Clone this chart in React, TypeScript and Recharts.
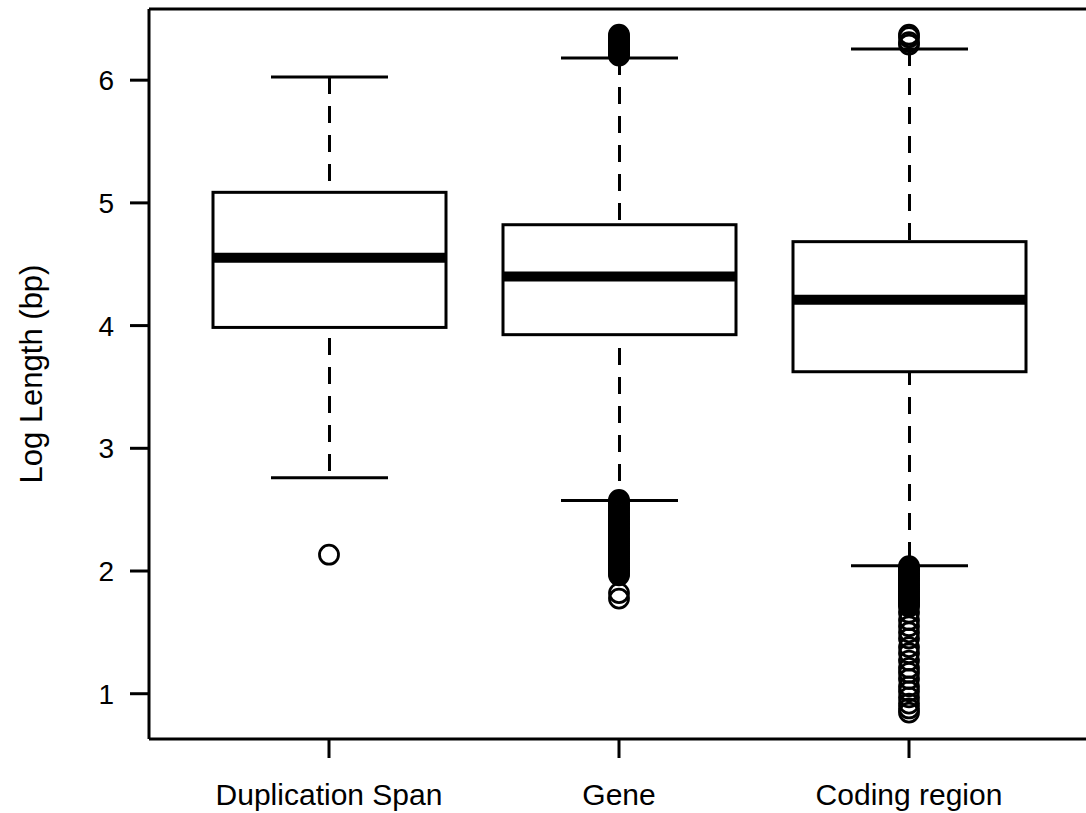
import { ComposedChart, Bar, Scatter, XAxis, YAxis, ReferenceLine } from 'recharts';

const categories = ['Duplication Span', 'Gene', 'Coding region'];
const lowerWhisker = [2.76, 2.575, 2.043];
const q1 = [3.985, 3.926, 3.624];
const median = [4.553, 4.401, 4.211];
const q3 = [5.086, 4.822, 4.684];
const upperWhisker = [6.026, 6.18, 6.254];

const dupOutliers = [2.133];
const geneOutliers = [
  6.2, 6.21, 6.22, 6.235, 6.25, 6.26, 6.275, 6.29, 6.3, 6.315, 6.33, 6.34, 6.355, 6.37,
  2.58, 2.565, 2.55, 2.535, 2.52, 2.505, 2.49, 2.475, 2.46, 2.445, 2.43, 2.415,
  2.4, 2.385, 2.37, 2.355, 2.34, 2.325, 2.31, 2.295, 2.28, 2.265, 2.25, 2.235,
  2.22, 2.205, 2.19, 2.175, 2.16, 2.145, 2.13, 2.115, 2.1, 2.085, 2.07, 2.055,
  2.04, 2.025, 2.01, 1.995, 1.98, 1.965, 1.82, 1.775,
];
const codingOutliers = [
  6.29, 6.31, 6.35, 6.37,
  2.04, 2.025, 2.01, 1.995, 1.98, 1.965, 1.95, 1.935, 1.92, 1.905, 1.89, 1.875,
  1.86, 1.845, 1.83, 1.815, 1.8, 1.785, 1.77, 1.755, 1.74, 1.725, 1.71,
  1.66, 1.6, 1.55, 1.5, 1.45, 1.38, 1.33, 1.27, 1.21, 1.17, 1.12,
  1.06, 1.02, 0.97, 0.92, 0.88, 0.846,
];

const yTicks = [1, 2, 3, 4, 5, 6];
const yDomain = [0.631, 6.58];

const boxData = categories.map((cat, i) => ({
  cat,
  whisker: [lowerWhisker[i], upperWhisker[i]],
  box: [q1[i], q3[i]],
}));
const medianData = categories.map((cat, i) => ({ cat, v: median[i] }));
const outlierData = [
  ...dupOutliers.map((v) => ({ cat: categories[0], v })),
  ...geneOutliers.map((v) => ({ cat: categories[1], v })),
  ...codingOutliers.map((v) => ({ cat: categories[2], v })),
];

const font = "'Liberation Sans', Arial, sans-serif";
const lineStyle = { stroke: '#000', strokeWidth: 3 };
const pad = { left: 35, right: 36 };

const WhiskerShape = (props: any) => {
  const { x, y, width, height } = props;
  const top = Math.min(y, y + height);
  const bottom = Math.max(y, y + height);
  const cx = x + width / 2;
  return (
    <g>
      <line x1={cx} x2={cx} y1={top} y2={bottom} stroke="#000" strokeWidth={3} strokeDasharray="17 12" />
      <line x1={x} x2={x + width} y1={top} y2={top} stroke="#000" strokeWidth={3} />
      <line x1={x} x2={x + width} y1={bottom} y2={bottom} stroke="#000" strokeWidth={3} />
    </g>
  );
};

const BoxShape = (props: any) => {
  const { x, y, width, height } = props;
  return (
    <rect
      x={x}
      y={Math.min(y, y + height)}
      width={width}
      height={Math.abs(height)}
      fill="#fff"
      stroke="#000"
      strokeWidth={3}
    />
  );
};

const MedianShape = (props: any) => {
  const { cx, cy } = props;
  return <line x1={cx - 116.5} x2={cx + 116.5} y1={cy} y2={cy} stroke="#000" strokeWidth={10} />;
};

const OutlierShape = (props: any) => {
  const { cx, cy } = props;
  return <circle cx={cx} cy={cy} r={9.5} fill="none" stroke="#000" strokeWidth={2.8} />;
};

const YTitle = (props: any) => {
  const vb = props.viewBox;
  const cy = vb.y + vb.height / 2;
  return (
    <text
      x={42}
      y={cy}
      transform={`rotate(-90, 42, ${cy})`}
      textAnchor="middle"
      fontFamily={font}
      fontSize={31}
      fill="#000"
    >
      Log Length (bp)
    </text>
  );
};

export default function App() {
  return (
    <div style={{ position: 'absolute', left: 0, top: 0, width: 1086, height: 813, overflow: 'hidden', background: '#fff' }}>
      <ComposedChart width={1090} height={813} data={boxData} margin={{ top: 9, right: 0, bottom: 0, left: 0 }}>
        <XAxis
          dataKey="cat"
          type="category"
          allowDuplicatedCategory={false}
          padding={pad}
          height={74}
          interval={0}
          tickSize={19}
          tickMargin={26}
          axisLine={lineStyle}
          tickLine={lineStyle}
          tick={{ fontSize: 30, fontFamily: font, fill: '#000' }}
        />
        <XAxis xAxisId="box" dataKey="cat" type="category" allowDuplicatedCategory={false} padding={pad} hide />
        <YAxis
          type="number"
          domain={yDomain}
          allowDataOverflow
          ticks={yTicks}
          width={149}
          tickSize={19}
          tickMargin={16}
          axisLine={lineStyle}
          tickLine={lineStyle}
          tick={{ fontSize: 28, fontFamily: font, fill: '#000' }}
          label={{ value: 'Log Length (bp)', content: YTitle }}
        />
        <ReferenceLine y={yDomain[1]} stroke="#000" strokeWidth={3} ifOverflow="visible" />
        <Bar dataKey="whisker" barSize={117} shape={WhiskerShape} isAnimationActive={false} />
        <Bar dataKey="box" xAxisId="box" barSize={233} shape={BoxShape} isAnimationActive={false} />
        <Scatter data={medianData} dataKey="v" shape={MedianShape} isAnimationActive={false} />
        <Scatter data={outlierData} dataKey="v" shape={OutlierShape} isAnimationActive={false} />
      </ComposedChart>
    </div>
  );
}
